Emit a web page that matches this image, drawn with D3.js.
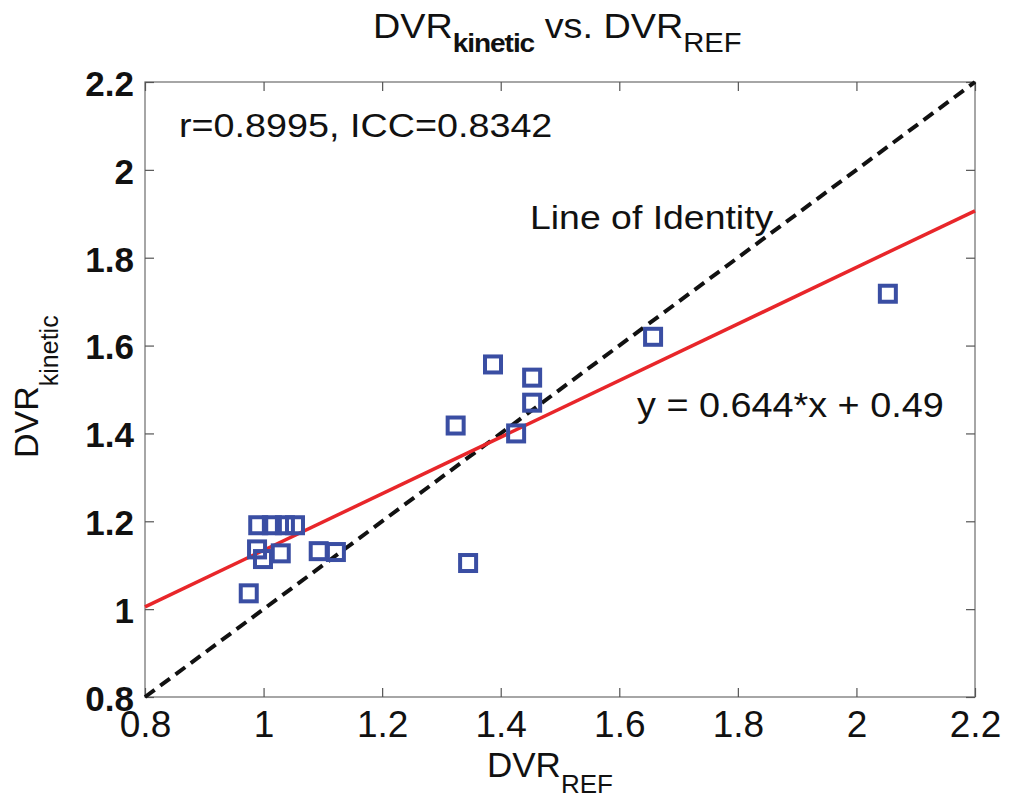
<!DOCTYPE html>
<html>
<head>
<meta charset="utf-8">
<script src="https://cdn.jsdelivr.net/npm/d3@7"></script>
<style>
  body { margin: 0; background: #fff; }
  svg { display: block; font-family: "Liberation Sans", Arial, sans-serif; }
</style>
</head>
<body>
<div id="chart"></div>
<script>
// data
const dvrRef = [0.991, 1.014, 1.036, 1.053, 0.989, 0.999, 1.029, 1.093, 1.122, 0.975,
  1.345, 1.387, 1.453, 1.453, 1.324, 1.426, 1.657, 2.053];
const dvrKinetic = [1.191, 1.191, 1.191, 1.191, 1.136, 1.114, 1.127, 1.132, 1.130, 1.036,
  1.105, 1.557, 1.527, 1.470, 1.418, 1.400, 1.620, 1.718];
const xTicks = [0.8, 1, 1.2, 1.4, 1.6, 1.8, 2, 2.2];
const yTicks = [0.8, 1, 1.2, 1.4, 1.6, 1.8, 2, 2.2];
const fitSlope = 0.644;
const fitIntercept = 0.49;
const domain = [0.8, 2.2];

const w = 1019, h = 799;
const margin = { left: 145, right: 44, top: 82, bottom: 102 };

const svg = d3.select("#chart").append("svg")
  .attr("width", w)
  .attr("height", h);

const x = d3.scaleLinear().domain(domain).range([margin.left, w - margin.right]);
const y = d3.scaleLinear().domain(domain).range([h - margin.bottom, margin.top]);

// frame
svg.append("rect")
  .attr("x", x(domain[0])).attr("y", y(domain[1]))
  .attr("width", x(domain[1]) - x(domain[0]))
  .attr("height", y(domain[0]) - y(domain[1]))
  .attr("fill", "none").attr("stroke", "#777").attr("stroke-width", 1.3);

// axes with inward ticks
const xAxis = svg.append("g")
  .attr("transform", `translate(0,${y(domain[0])})`)
  .call(d3.axisBottom(x).tickValues(xTicks).tickSize(-9).tickPadding(13).tickFormat(d3.format("")));
const xTop = svg.append("g")
  .attr("transform", `translate(0,${y(domain[1])})`)
  .call(d3.axisTop(x).tickValues(xTicks).tickSize(-9).tickFormat(""));
const yAxis = svg.append("g")
  .attr("transform", `translate(${x(domain[0])},0)`)
  .call(d3.axisLeft(y).tickValues(yTicks).tickSize(-9).tickPadding(11).tickFormat(d3.format("")));
const yRight = svg.append("g")
  .attr("transform", `translate(${x(domain[1])},0)`)
  .call(d3.axisRight(y).tickValues(yTicks).tickSize(-9).tickFormat(""));

[xAxis, xTop, yAxis, yRight].forEach(g => {
  g.select(".domain").remove();
  g.selectAll(".tick line").attr("stroke", "#555").attr("stroke-width", 1.2);
});
xAxis.selectAll("text")
  .attr("font-size", 37).attr("fill", "#111")
  .attr("dy", "0.72em");
yAxis.selectAll("text")
  .attr("font-size", 35).attr("font-weight", "bold").attr("fill", "#111")
  .attr("dy", "0.38em");

// line of identity
svg.append("line")
  .attr("x1", x(domain[0])).attr("y1", y(domain[0]))
  .attr("x2", x(domain[1])).attr("y2", y(domain[1]))
  .attr("stroke", "#111").attr("stroke-width", 4)
  .attr("stroke-dasharray", "12,7");

// regression line
svg.append("line")
  .attr("x1", x(domain[0])).attr("y1", y(fitSlope * domain[0] + fitIntercept))
  .attr("x2", x(domain[1])).attr("y2", y(fitSlope * domain[1] + fitIntercept))
  .attr("stroke", "#e8262a").attr("stroke-width", 3.5);

// points
const sz = 16;
svg.append("g")
  .selectAll("rect")
  .data(dvrRef.map((d, i) => [d, dvrKinetic[i]]))
  .enter()
  .append("rect")
  .attr("x", d => x(d[0]) - sz / 2)
  .attr("y", d => y(d[1]) - sz / 2)
  .attr("width", sz).attr("height", sz)
  .attr("fill", "none").attr("stroke", "#3a4ea3").attr("stroke-width", 4);

// annotations (a bit wider than plain Arial, like the original)
function note(tx, ty, size, sx, str) {
  svg.append("text")
    .attr("transform", `translate(${tx},${ty}) scale(${sx},1)`)
    .attr("font-size", size).attr("fill", "#111")
    .text(str);
}
note(179, 137, 34, 1.11, "r=0.8995, ICC=0.8342");
note(530, 229, 34, 1.1, "Line of Identity");
note(637, 417, 35, 1.08, "y = 0.644*x + 0.49");

// title
const title = svg.append("text").attr("transform", "translate(373,38) scale(1.08,1)")
  .attr("font-size", 35).attr("fill", "#111");
title.append("tspan").text("DVR");
title.append("tspan").attr("font-size", 26).attr("font-weight", "bold").attr("dy", 14).attr("letter-spacing", -1).text("kinetic");
title.append("tspan").attr("dy", -14).text(" vs. DVR");
title.append("tspan").attr("font-size", 27).attr("dy", 14).text("REF");

// x label
const xl = svg.append("text").attr("x", 487).attr("y", 777)
  .attr("font-size", 35).attr("fill", "#111");
xl.append("tspan").text("DVR");
xl.append("tspan").attr("font-size", 26).attr("dy", 16).text("REF");

// y label
const yl = svg.append("text")
  .attr("transform", "translate(38,458) rotate(-90)")
  .attr("font-size", 34).attr("fill", "#111");
yl.append("tspan").text("DVR");
yl.append("tspan").attr("font-size", 25).attr("dy", 20).text("kinetic");
</script>
</body>
</html>
